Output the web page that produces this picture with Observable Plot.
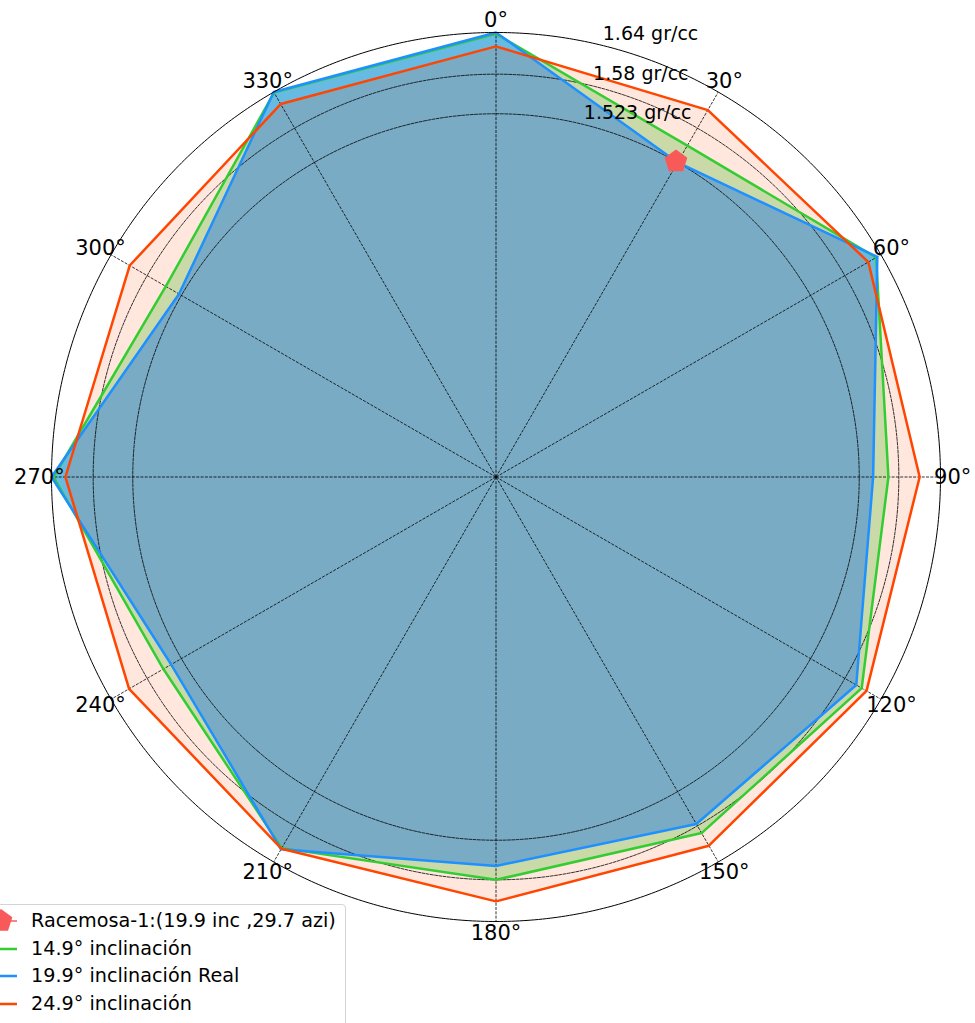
<!DOCTYPE html>
<html>
<head>
<meta charset="utf-8">
<script src="https://cdn.jsdelivr.net/npm/d3@7"></script>
<script src="https://cdn.jsdelivr.net/npm/@observablehq/plot@0.6"></script>
<style>
  body { margin: 0; background: #fff; }
  #wrap { position: relative; width: 975px; height: 1023px; overflow: hidden; font-family: "DejaVu Sans", sans-serif; }
  #legend { position: absolute; left: -30px; top: 904px; width: 376px; height: 150px; box-sizing: border-box;
            border: 1px solid #d4d4d4; border-radius: 4px; background: rgba(255,255,255,0.85); }
  #legend .row { position: absolute; left: 0; height: 28px; width: 370px; }
  #legend .row svg { position: absolute; left: 0; top: 0; }
  #legend .row span { position: absolute; left: 60px; top: 0; line-height: 28px; font-size: 19.2px; color: #000; white-space: nowrap; }
</style>
</head>
<body>
<div id="wrap">
  <div id="chart"></div>
  <div id="legend"></div>
</div>
<script>
// Azimuths (degrees clockwise from north) at which the density was computed
const angles = [0, 30, 60, 90, 120, 150, 180, 210, 240, 270, 300, 330];

// Density (gr/cc) for each inclination
const incl149 = [1.638, 1.551, 1.632, 1.565, 1.608, 1.592, 1.580, 1.617, 1.553, 1.637, 1.549, 1.639];
const incl199 = [1.640, 1.523, 1.634, 1.543, 1.599, 1.577, 1.560, 1.619, 1.540, 1.640, 1.527, 1.640];
const incl249 = [1.620, 1.610, 1.619, 1.610, 1.616, 1.613, 1.611, 1.618, 1.610, 1.620, 1.609, 1.620];

// Well reference point
const wellName = "Racemosa-1";
const wellInclination = 19.9;
const wellAzimuth = 29.7;
const wellDensity = 1.523;

// Radial grid
const radialTicks = [1.523, 1.58, 1.64];
const radialTickLabels = ["1.523 gr/cc", "1.58 gr/cc", "1.64 gr/cc"];
const radialMin = 1.0;
const radialMax = 1.64;

// Series names and colours
const seriesNames = ["14.9° inclinación", "19.9° inclinación Real", "24.9° inclinación"];
const seriesColors = ["#32cd32", "#1e90ff", "#ff4500"];
const seriesFillOpacity = [0.3, 0.55, 0.13];
const markerColor = "#f85a5a";

const seriesValues = [incl149, incl199, incl249];
const series = seriesNames.map((name, s) => ({
  name,
  color: seriesColors[s],
  fillOpacity: seriesFillOpacity[s],
  points: angles.map((a, i) => ({angle: a, value: seriesValues[s][i]}))
}));

// Polar layout: azimuthal projection centred on the pole, value -> angular distance
const D = 60;
const rDeg = d3.scaleLinear().domain([radialMin, radialMax]).range([0, D]);
const lon = (a) => 180 - a;           // 0° at top, clockwise
const lat = (v) => 90 - rDeg(v);
const thetaLabelValue = radialMax + 0.0175;
const rLabelAngle = 13.5;

// Pentagon symbol for the well marker
const pentagon = {
  draw(context, size) {
    const R = Math.sqrt(size / 2.3776);
    for (let i = 0; i < 5; ++i) {
      const t = -Math.PI / 2 + i * 2 * Math.PI / 5;
      const x = R * Math.cos(t), y = R * Math.sin(t);
      if (i === 0) context.moveTo(x, y); else context.lineTo(x, y);
    }
    context.closePath();
  }
};

const circle = (v) => d3.geoCircle().center([0, 90]).radius(rDeg(v)).precision(0.5)();

const marks = [];
// filled polygons
for (const s of series) {
  marks.push(Plot.line(s.points, {
    x: d => lon(d.angle), y: d => lat(d.value),
    curve: "linear-closed", fill: s.color, fillOpacity: s.fillOpacity, stroke: "none"
  }));
}
// dashed grid circles and spokes
marks.push(Plot.geo(radialTicks.filter(v => v < radialMax), {
  geometry: v => circle(v), fill: "none", stroke: "black", strokeWidth: 0.8, strokeDasharray: "3,1.3"
}));
marks.push(Plot.link(angles, {
  x1: a => lon(a), y1: 90, x2: a => lon(a), y2: lat(radialMax),
  stroke: "black", strokeWidth: 0.8, strokeDasharray: "3,1.3"
}));
// series outlines
for (const s of series) {
  marks.push(Plot.line(s.points, {
    x: d => lon(d.angle), y: d => lat(d.value),
    curve: "linear-closed", stroke: s.color, strokeWidth: 2.5, fill: "none"
  }));
}
// outer boundary
marks.push(Plot.geo([radialMax], {geometry: v => circle(v), fill: "none", stroke: "black", strokeWidth: 1}));
// well marker
marks.push(Plot.dot([{angle: wellAzimuth, value: wellDensity}], {
  x: d => lon(d.angle), y: d => lat(d.value), symbol: pentagon, r: 10.4, fill: markerColor, stroke: "none"
}));
// angular labels
marks.push(Plot.text(angles, {
  x: a => lon(a), y: lat(thetaLabelValue), text: a => `${a}°`,
  fontSize: 21, textAnchor: "middle", lineAnchor: "middle", fill: "black"
}));
// radial labels
marks.push(Plot.text(radialTicks, {
  x: lon(rLabelAngle), y: v => lat(v), text: (v, i) => radialTickLabels[i],
  fontSize: 19, textAnchor: "start", lineAnchor: "bottom", dx: 3, dy: -5, fill: "black"
}));

const chart = Plot.plot({
  width: 975,
  height: 1023,
  marginLeft: 51, marginRight: 35, marginTop: 32, marginBottom: 102,
  style: {fontFamily: "DejaVu Sans, sans-serif", background: "transparent", color: "black"},
  projection: {
    type: "azimuthal-equidistant",
    rotate: [0, -90],
    domain: d3.geoCircle().center([0, 90]).radius(D)(),
    clip: false
  },
  marks
});
document.getElementById("chart").appendChild(chart);

// Legend
const legendItems = [
  {label: `${wellName}:(${wellInclination} inc ,${wellAzimuth} azi)`, color: markerColor, marker: true},
  ...series.map(s => ({label: s.name, color: s.color, marker: false}))
];
const legend = document.getElementById("legend");
legendItems.forEach((item, i) => {
  const row = document.createElement("div");
  row.className = "row";
  row.style.top = (2 + 27.7 * i) + "px";
  const svg = d3.create("svg").attr("width", 56).attr("height", 28);
  svg.append("line").attr("x1", 8).attr("x2", 46).attr("y1", 14).attr("y2", 14)
    .attr("stroke", item.color).attr("stroke-width", item.marker ? 1.5 : 2.5);
  if (item.marker) {
    svg.append("path").attr("transform", "translate(30,14)")
      .attr("d", d3.symbol(pentagon, Math.PI * 10.4 * 10.4)()).attr("fill", item.color);
  }
  row.appendChild(svg.node());
  const span = document.createElement("span");
  span.textContent = item.label;
  row.appendChild(span);
  legend.appendChild(row);
});
</script>
</body>
</html>
